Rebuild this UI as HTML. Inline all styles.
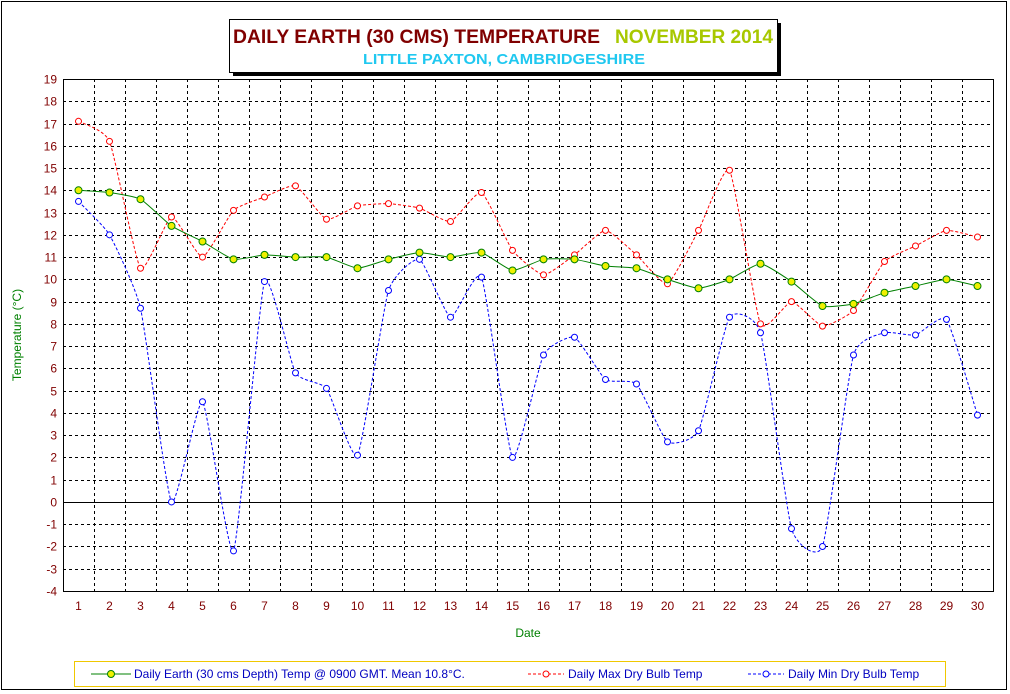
<!DOCTYPE html>
<html><head><meta charset="utf-8"><style>
body{margin:0;background:#fff}
svg{display:block;font-family:"Liberation Sans",sans-serif}
</style></head><body>
<svg id="chart" width="1010" height="694" viewBox="0 0 1010 694" xmlns="http://www.w3.org/2000/svg">
<rect x="1.5" y="1.5" width="1005" height="688" fill="#fff" stroke="#000" stroke-width="1"/>
<rect x="233" y="23" width="548" height="53" fill="#000"/>
<rect x="229.5" y="19.5" width="548" height="53" fill="#fff" stroke="#000"/>
<text x="233" y="43" font-size="19" font-weight="bold" fill="#800000" textLength="367" lengthAdjust="spacingAndGlyphs">DAILY EARTH (30 CMS) TEMPERATURE</text>
<text x="615" y="43" font-size="19" font-weight="bold" fill="#a8c800" textLength="158" lengthAdjust="spacingAndGlyphs">NOVEMBER 2014</text>
<text x="363" y="64" font-size="15" font-weight="bold" fill="#20c8f0" textLength="282" lengthAdjust="spacingAndGlyphs">LITTLE PAXTON, CAMBRIDGESHIRE</text>
<g id="grid"></g>
<g id="axes"></g>
<g id="series"></g>
<text transform="translate(21,335) rotate(-90)" text-anchor="middle" font-size="12" fill="#008000">Temperature (°C)</text>
<text x="528" y="637" text-anchor="middle" font-size="12" fill="#008000">Date</text>
<g>
<rect x="74.5" y="661.5" width="871" height="25" fill="#fff" stroke="#f0c800"/>
<g>
<line x1="91" y1="674" x2="131" y2="674" stroke="#008000"/><circle cx="111" cy="674" r="3.5" fill="#f0f000" stroke="#008000"/>
<text x="134" y="678" font-size="12" fill="#0000c0">Daily Earth (30 cms Depth) Temp @ 0900 GMT. Mean 10.8°C.</text></g>
<g>
<line x1="528" y1="674" x2="564" y2="674" stroke="#f00" stroke-dasharray="3,2"/><circle cx="546" cy="674" r="3" fill="#fff" stroke="#f00"/>
<text x="568" y="678" font-size="12" fill="#0000c0">Daily Max Dry Bulb Temp</text></g>
<g>
<line x1="748" y1="674" x2="784" y2="674" stroke="#00f" stroke-dasharray="3,2"/><circle cx="766" cy="674" r="3" fill="#fff" stroke="#00f"/>
<text x="788" y="678" font-size="12" fill="#0000c0">Daily Min Dry Bulb Temp</text></g>
</g>
</svg>
<script>
const days=[1,2,3,4,5,6,7,8,9,10,11,12,13,14,15,16,17,18,19,20,21,22,23,24,25,26,27,28,29,30];
const earthTemp=[14.0,13.9,13.6,12.4,11.7,10.9,11.1,11.0,11.0,10.5,10.9,11.2,11.0,11.2,10.4,10.9,10.9,10.6,10.5,10.0,9.6,10.0,10.7,9.9,8.8,8.9,9.4,9.7,10.0,9.7];
const maxTemp=[17.1,16.2,10.5,12.8,11.0,13.1,13.7,14.2,12.7,13.3,13.4,13.2,12.6,13.9,11.3,10.2,11.1,12.2,11.1,9.8,12.2,14.9,8.0,9.0,7.9,8.6,10.8,11.5,12.2,11.9];
const minTemp=[13.5,12.0,8.7,0.0,4.5,-2.2,9.9,5.8,5.1,2.1,9.5,10.9,8.3,10.1,2.0,6.6,7.4,5.5,5.3,2.7,3.2,8.3,7.6,-1.2,-2.0,6.6,7.6,7.5,8.2,3.9];
const yTicks=[-4,-3,-2,-1,0,1,2,3,4,5,6,7,8,9,10,11,12,13,14,15,16,17,18,19];
const L=63,R=993,T=79,B=591,yMin=-4,yMax=19;
const NS="http://www.w3.org/2000/svg";
const band=(R-L)/days.length;
function x(i){return L+band*(i+0.5);}
function y(v){return B-(v-yMin)/(yMax-yMin)*(B-T);}
function mk(tag,attrs,parent){const e=document.createElementNS(NS,tag);for(const k in attrs)e.setAttribute(k,attrs[k]);parent.appendChild(e);return e;}
const grid=document.getElementById('grid'),axes=document.getElementById('axes'),series=document.getElementById('series');
yTicks.forEach(v=>{
  const yy=Math.round(y(v))+0.5;
  if(v!==yMin&&v!==yMax){const l=mk('line',{x1:L,x2:R,y1:yy,y2:yy,stroke:'#000','stroke-dasharray':v===0?'none':'3,3'},grid);
  
  }
  const t=mk('text',{x:L-6,y:yy+4,'text-anchor':'end','font-size':12,fill:'#800000'},axes);t.textContent=v;
  
  
});
for(let i=1;i<days.length;i++){
  const xx=Math.round(L+band*i)+0.5;
  const l=mk('line',{x1:xx,x2:xx,y1:T,y2:B,stroke:'#000','stroke-dasharray':'3,3'},grid);
  
  
}
days.forEach((d,i)=>{
  const t=mk('text',{x:x(i),y:B+19,'text-anchor':'middle','font-size':12,fill:'#800000'},axes);t.textContent=d;
  
  
});
const fr=mk('rect',{x:L+0.5,y:T+0.5,width:R-L,height:B-T,fill:'none',stroke:'#000'},axes);


function smooth(vals){
  const p=vals.map((v,i)=>[x(i),y(v)]);let d='M'+p[0][0]+','+p[0][1];
  for(let i=0;i<p.length-1;i++){
    const p0=p[i-1]||p[i],p1=p[i],p2=p[i+1],p3=p[i+2]||p2,k=0.08;
    d+=' C'+(p1[0]+(p2[0]-p0[0])*k)+','+(p1[1]+(p2[1]-p0[1])*k)+' '+(p2[0]-(p3[0]-p1[0])*k)+','+(p2[1]-(p3[1]-p1[1])*k)+' '+p2[0]+','+p2[1];
  }
  return d;
}
function draw(vals,color,dash,fill,r,name){
  const path=mk('path',{d:smooth(vals),fill:'none',stroke:color,'stroke-dasharray':dash},series);
  
  
  vals.forEach((v,i)=>{
    const c=mk('circle',{cx:x(i),cy:y(v),r:r,fill:fill,stroke:color},series);
    
    
  });
}
draw(maxTemp,'#f00','3,2','#fff',3,'max-temp');
draw(minTemp,'#00f','3,2','#fff',3,'min-temp');
draw(earthTemp,'#008000','none','#f0f000',3.5,'earth-temp');
</script>
</body></html>
